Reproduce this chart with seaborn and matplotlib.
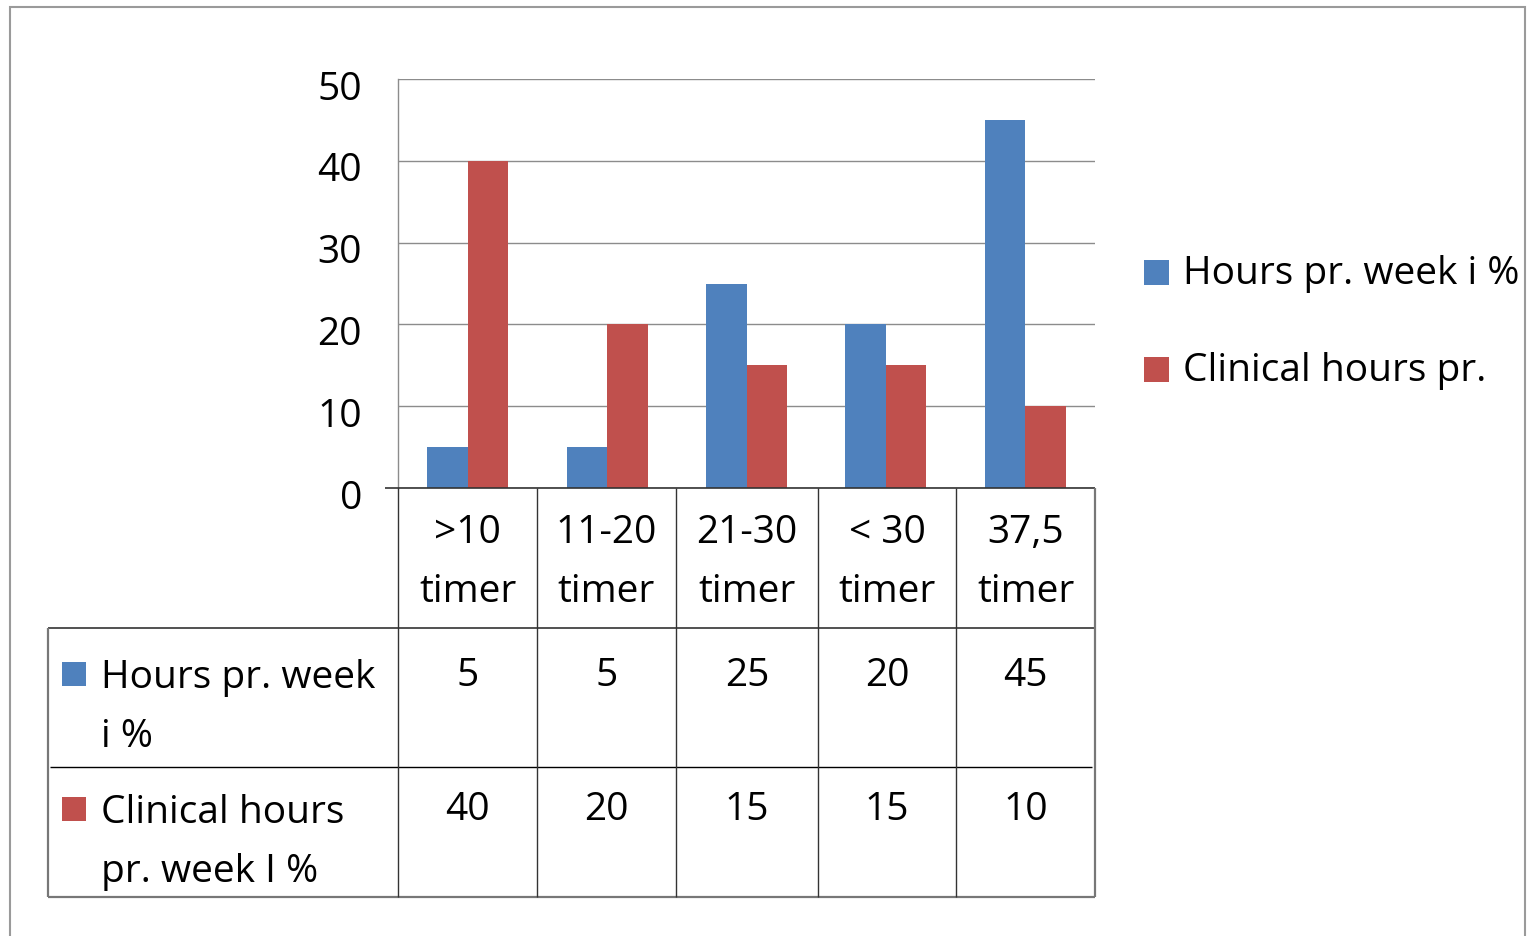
import matplotlib
matplotlib.use("Agg")
import matplotlib.pyplot as plt
from matplotlib.patches import Rectangle
from matplotlib.lines import Line2D
import matplotlib.transforms as mtransforms
import pandas as pd
import seaborn as sns

# Data
categories = [">10\ntimer", "11-20\ntimer", "21-30\ntimer", "< 30\ntimer", "37,5\ntimer"]
series_names = ["Hours pr. week i %", "Clinical hours pr. week I %"]
table_row_labels = ["Hours pr. week\ni %", "Clinical hours\npr. week I %"]
legend_labels = ["Hours pr. week i %", "Clinical hours pr."]
hours_week = [5, 5, 25, 20, 45]
clinical_hours = [40, 20, 15, 15, 10]
y_ticks = [0, 10, 20, 30, 40, 50]

colors = ["#4F81BD", "#C0504D"]

W, H = 1532, 936
sns.set_theme(style="white")
plt.rcParams["font.family"] = ["Open Sans", "DejaVu Sans"]
plt.rcParams["text.color"] = "black"

fig = plt.figure(figsize=(W / 100, H / 100), dpi=100)
fig.patch.set_facecolor("white")


def fx(x):
    return x / W


def fy(y):
    return 1 - y / H


def hline(x0, x1, y, color="black", lw=1.0):
    fig.add_artist(Line2D([fx(x0), fx(x1)], [fy(y), fy(y)], color=color, lw=lw,
                          transform=fig.transFigure, solid_capstyle="butt"))


def vline(x, y0, y1, color="black", lw=1.0):
    fig.add_artist(Line2D([fx(x), fx(x)], [fy(y0), fy(y1)], color=color, lw=lw,
                          transform=fig.transFigure, solid_capstyle="butt"))


# Outer chart border
fig.add_artist(Rectangle((fx(10), fy(945)), fx(1525) - fx(10), fy(7) - fy(945),
                         transform=fig.transFigure, fill=False,
                         edgecolor="#9a9a9a", lw=1.5))

# Plot area
left, right, top, bottom = 398, 1095, 79, 488
ax = fig.add_axes([fx(left), fy(bottom), fx(right) - fx(left), fy(top) - fy(bottom)])

df = pd.DataFrame({
    "cat": categories * 2,
    "val": hours_week + clinical_hours,
    "series": [series_names[0]] * len(categories) + [series_names[1]] * len(categories),
})
sns.barplot(data=df, x="cat", y="val", hue="series", order=categories,
            hue_order=series_names, palette=colors, width=0.58, saturation=1,
            legend=False, ax=ax, edgecolor="none", linewidth=0)

fs = 28
ax.set_xlim(-0.5, len(categories) - 0.5)
ax.set_ylim(0, 50)
ax.set_yticks(y_ticks)
ax.set_yticklabels([str(t) for t in y_ticks], fontsize=fs, color="black")
ax.set_xticks([])
ax.set_xlabel("")
ax.set_ylabel("")
ax.yaxis.grid(True, color="#8c8c8c", lw=1.0)
ax.set_axisbelow(True)
for s in ["top", "right", "bottom"]:
    ax.spines[s].set_visible(False)
ax.spines["left"].set_color("#8c8c8c")
ax.spines["left"].set_linewidth(1.0)
ax.tick_params(axis="y", length=10, width=1.0, color="#8c8c8c", pad=16, labelcolor="black")
ax.tick_params(axis="x", length=0)
ax.set_facecolor("none")
shift = mtransforms.ScaledTranslation(0, -6 / 100, fig.dpi_scale_trans)
for lbl in ax.get_yticklabels():
    lbl.set_transform(lbl.get_transform() + shift)

# Data table below the plot
col_x = [398, 537, 676, 818, 956, 1095]
tbl_left = 48

hline(385, 1095, 488, color="#333333", lw=1.2)
hline(tbl_left, 1095, 628, color="#333333", lw=1.2)
hline(50, 1092, 767, color="black", lw=1.0)
hline(tbl_left, 1095, 897, color="#777777", lw=1.6)
vline(tbl_left, 628, 897, color="#777777", lw=1.6)
for i, x in enumerate(col_x):
    last = i == len(col_x) - 1
    vline(x, 488, 897, color="#777777" if last else "#333333", lw=1.6 if last else 1.0)

for i, cat in enumerate(categories):
    cx = (col_x[i] + col_x[i + 1]) / 2
    l1, l2 = cat.split("\n")
    fig.text(fx(cx), fy(533), l1, ha="center", va="center", fontsize=fs)
    fig.text(fx(cx), fy(592), l2, ha="center", va="center", fontsize=fs)
    fig.text(fx(cx), fy(676), str(hours_week[i]), ha="center", va="center", fontsize=fs)
    fig.text(fx(cx), fy(810), str(clinical_hours[i]), ha="center", va="center", fontsize=fs)

# Row labels with legend keys
row_centers = [(678, 737), (813, 872)]
key_tops = [662, 797]
for k in range(2):
    fig.add_artist(Rectangle((fx(62), fy(key_tops[k] + 24)), fx(24), fy(key_tops[k]) - fy(key_tops[k] + 24),
                             transform=fig.transFigure, facecolor=colors[k], edgecolor="none"))
    l1, l2 = table_row_labels[k].split("\n")
    fig.text(fx(101), fy(row_centers[k][0]), l1, ha="left", va="center", fontsize=fs)
    fig.text(fx(101), fy(row_centers[k][1]), l2, ha="left", va="center", fontsize=fs)

# Legend on the right
leg_key_tops = [260, 357]
for k in range(2):
    fig.add_artist(Rectangle((fx(1144), fy(leg_key_tops[k] + 25)), fx(25), fy(leg_key_tops[k]) - fy(leg_key_tops[k] + 25),
                             transform=fig.transFigure, facecolor=colors[k], edgecolor="none"))
    fig.text(fx(1183), fy(leg_key_tops[k] + 14), legend_labels[k], ha="left", va="center", fontsize=fs)

fig.savefig("out.png", dpi=100, facecolor="white")
